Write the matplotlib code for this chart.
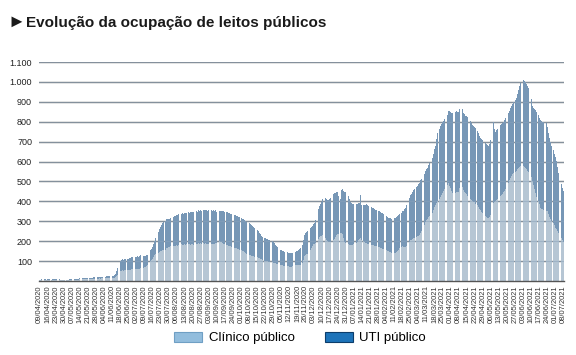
import datetime as dt
import matplotlib
matplotlib.use("Agg")
import matplotlib.pyplot as plt
from matplotlib.patches import Patch

plt.rcParams['font.family'] = ['Liberation Sans', 'DejaVu Sans']

start_date = dt.date(2020, 4, 9)

# Leitos clínicos públicos ocupados (por dia, a partir de 09/04/2020)
clinico = [
    4, 4, 5, 4, 5, 5, 4,
    5, 5, 6, 5, 5, 6, 5,
    5, 6, 5, 5, 4, 4, 4,
    4, 4, 3, 4, 4, 4, 5,
    5, 5, 6, 6, 6, 7, 7,
    8, 8, 9, 8, 8, 8, 9,
    8, 8, 9, 9, 10, 10, 11,
    12, 12, 12, 13, 12, 13, 13,
    13, 13, 14, 14, 15, 14, 15,
    15, 15, 16, 18, 25, 30, 40,
    50, 52, 54, 52, 55, 53, 54,
    55, 56, 57, 58, 58, 57, 59,
    60, 61, 60, 62, 63, 62, 65,
    68, 72, 75, 78, 85, 100, 105,
    110, 120, 130, 135, 140, 143, 147,
    150, 152, 155, 156, 158, 165, 168,
    170, 172, 175, 173, 176, 178, 178,
    180, 178, 182, 180, 184, 183, 182,
    185, 182, 186, 188, 185, 183, 186,
    185, 182, 188, 186, 184, 190, 188,
    190, 186, 192, 188, 190, 186, 184,
    185, 182, 186, 184, 188, 186, 190,
    190, 195, 200, 198, 195, 192, 188,
    185, 182, 180, 178, 176, 174, 172,
    170, 167, 165, 164, 162, 160, 158,
    155, 152, 150, 146, 142, 138, 135,
    133, 130, 128, 126, 124, 122, 121,
    120, 118, 115, 112, 108, 104, 101,
    100, 99, 98, 97, 96, 95, 94,
    92, 90, 88, 85, 84, 82, 81,
    80, 79, 77, 76, 75, 74, 73,
    72, 70, 72, 74, 76, 78, 80,
    80, 80, 82, 82, 90, 105, 125,
    132, 134, 138, 142, 155, 168, 178,
    185, 188, 192, 196, 210, 220, 224,
    226, 230, 226, 218, 208, 200, 196,
    195, 196, 200, 205, 212, 222, 230,
    235, 238, 240, 242, 238, 215, 195,
    192, 188, 185, 182, 180, 181, 183,
    185, 186, 190, 196, 205, 212, 214,
    205, 200, 195, 192, 190, 188, 186,
    184, 182, 180, 181, 178, 176, 174,
    172, 170, 168, 165, 162, 160, 158,
    156, 152, 150, 148, 146, 143, 141,
    140, 142, 146, 150, 158, 165, 172,
    176, 172, 170, 172, 178, 188, 198,
    205, 208, 212, 215, 218, 220, 224,
    228, 232, 240, 252, 265, 280, 298,
    305, 312, 320, 328, 335, 342, 355,
    372, 380, 392, 402, 410, 420, 430,
    440, 450, 462, 470, 480, 490, 478,
    465, 450, 440, 442, 440, 445, 446,
    445, 465, 485, 470, 455, 448, 440,
    435, 428, 420, 412, 405, 400, 396,
    395, 388, 380, 372, 362, 356, 348,
    340, 332, 325, 320, 318, 315, 320,
    330, 360, 390, 395, 400, 405, 410,
    418, 425, 430, 438, 445, 452, 462,
    475, 490, 505, 518, 528, 535, 542,
    548, 555, 562, 568, 572, 576, 580,
    578, 572, 568, 562, 555, 548, 535,
    520, 500, 480, 460, 440, 420, 400,
    385, 368, 362, 360, 358, 356, 354,
    350, 335, 320, 310, 300, 290, 280,
    268, 262, 252, 240, 228, 215, 206,
    198,
]

# Leitos de UTI públicos ocupados (por dia)
uti = [
    2, 3, 3, 2, 3, 3, 2,
    3, 3, 3, 2, 3, 3, 3,
    3, 4, 3, 3, 3, 3, 3,
    3, 3, 3, 3, 3, 4, 4,
    4, 4, 3, 4, 4, 5, 5,
    5, 5, 6, 5, 6, 6, 6,
    6, 7, 6, 7, 7, 8, 8,
    8, 8, 8, 9, 8, 9, 9,
    9, 9, 10, 10, 10, 10, 10,
    10, 10, 12, 15, 25, 35, 45,
    50, 52, 55, 54, 56, 55, 57,
    58, 60, 60, 62, 61, 63, 62,
    63, 64, 62, 65, 66, 64, 60,
    58, 56, 55, 54, 56, 55, 58,
    62, 66, 70, 80, 92, 105, 112,
    120, 128, 135, 140, 145, 146, 142,
    142, 140, 141, 143, 145, 148, 150,
    152, 155, 154, 156, 155, 157, 155,
    155, 158, 156, 160, 158, 162, 160,
    163, 165, 162, 166, 164, 165, 163,
    165, 168, 164, 167, 166, 169, 168,
    170, 168, 172, 170, 171, 168, 165,
    158, 152, 150, 155, 158, 160, 162,
    164, 165, 166, 164, 166, 165, 166,
    166, 165, 166, 164, 165, 163, 162,
    162, 160, 161, 160, 160, 159, 160,
    160, 158, 155, 152, 148, 144, 140,
    135, 132, 128, 124, 120, 117, 115,
    114, 113, 112, 111, 110, 110, 108,
    104, 100, 95, 90, 85, 80, 76,
    75, 74, 73, 72, 72, 71, 70,
    70, 70, 70, 69, 70, 70, 71,
    72, 75, 80, 85, 90, 100, 108,
    110, 112, 113, 115, 112, 105, 98,
    100, 105, 115, 125, 150, 158, 165,
    170, 180, 190, 198, 205, 208, 210,
    215, 220, 225, 230, 228, 222, 215,
    210, 190, 170, 215, 222, 235, 250,
    255, 250, 240, 230, 215, 210, 205,
    200, 198, 195, 192, 188, 180, 220,
    175, 180, 185, 190, 195, 194, 192,
    190, 188, 185, 186, 184, 182, 181,
    180, 181, 180, 179, 180, 178, 176,
    172, 168, 165, 166, 168, 170, 172,
    175, 176, 175, 175, 174, 172, 170,
    175, 182, 190, 195, 205, 212, 220,
    225, 230, 236, 240, 245, 250, 254,
    258, 262, 265, 262, 260, 258, 255,
    256, 258, 262, 265, 270, 278, 285,
    292, 300, 320, 340, 355, 358, 360,
    358, 355, 352, 350, 355, 365, 375,
    385, 395, 405, 415, 410, 408, 405,
    405, 400, 395, 392, 390, 390, 390,
    392, 394, 395, 392, 388, 385, 382,
    380, 378, 375, 370, 365, 364, 366,
    368, 370, 370, 368, 366, 365, 368,
    380, 395, 410, 370, 350, 352, 355,
    358, 360, 360, 358, 356, 355, 355,
    354, 352, 350, 350, 352, 355, 358,
    362, 365, 375, 390, 405, 420, 425,
    430, 435, 432, 428, 424, 420, 410,
    395, 380, 390, 405, 420, 430, 432,
    436, 440, 442, 440, 440, 440, 440,
    425, 410, 400, 390, 380, 370, 360,
    355, 340, 320, 300, 285, 272, 262,
    255,
]

y_ticks = [100, 200, 300, 400, 500, 600, 700, 800, 900, 1000, 1100]
y_labels = ["100", "200", "300", "400", "500", "600", "700", "800", "900", "1.000", "1.100"]

n = len(clinico)
dates = [start_date + dt.timedelta(days=i) for i in range(n)]
x = list(range(n))
tick_pos = list(range(0, n, 7))
tick_labels = [dates[i].strftime("%d/%m/%Y") for i in tick_pos]

fig = plt.figure(figsize=(5.76, 3.55), dpi=100)
ax = fig.add_axes([39 / 576, 1 - 281 / 355, (564 - 39) / 576, (281 - 62) / 355])

c_clin = '#b6c6d4'
c_uti = '#7797b6'

for yv in y_ticks:
    ax.axhline(yv, color='#7e7e7e', lw=1.0, zorder=0)

ax.bar(x, clinico, width=0.78, color=c_clin, linewidth=0, zorder=2)
ax.bar(x, uti, bottom=clinico, width=0.78, color=c_uti, linewidth=0, zorder=2)

for yv in y_ticks:
    ax.axhline(yv, color='#8aa2ba', lw=0.8, alpha=0.5, zorder=3)

ax.set_xlim(-0.5, n - 0.5)
ax.set_ylim(0, 1100)
ax.set_yticks(y_ticks)
ax.set_yticklabels(y_labels, fontsize=6.5, color='#222222')
ax.set_xticks(tick_pos)
ax.set_xticklabels(tick_labels, rotation=90, fontsize=5.4, color='#333333')
ax.tick_params(axis='both', length=0)
ax.tick_params(axis='y', pad=5)
ax.tick_params(axis='x', pad=3)

for s in ['top', 'right', 'left']:
    ax.spines[s].set_visible(False)
ax.spines['bottom'].set_color('#555555')
ax.spines['bottom'].set_linewidth(1.0)
ax.spines['bottom'].set_zorder(4)

fig.text(7 / 576, 1 - 27 / 355, "\u25BA", fontsize=13, color='#1a1a1a',
         va='baseline', ha='left')
fig.text(26 / 576, 1 - 27 / 355, "Evolução da ocupação de leitos públicos",
         fontsize=11, fontweight='bold', color='#1a1a1a', va='baseline', ha='left')

handles = [
    Patch(facecolor='#92bddd', edgecolor='#6f9fc4', linewidth=0.8),
    Patch(facecolor='#1d73b9', edgecolor='#0c3d6b', linewidth=0.8),
]
fig.legend(handles, ["Clínico público", "UTI público"], loc='center',
           bbox_to_anchor=(300 / 576, 1 - 338 / 355), ncol=2, frameon=False,
           fontsize=9.5, handlelength=2.1, handleheight=0.85, handletextpad=0.5,
           columnspacing=2.3)

fig.savefig("out.png", dpi=100)
